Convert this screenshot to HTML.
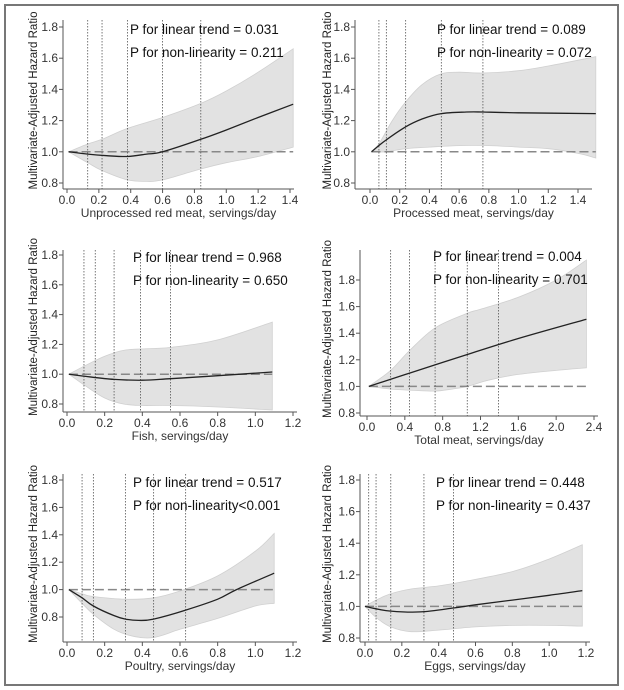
<!DOCTYPE html>
<html><head><meta charset="utf-8"><style>
html,body{margin:0;padding:0;background:#fff;}
svg{display:block;font-family:"Liberation Sans",Arial,sans-serif;}
</style></head><body>
<svg id="chart" width="624" height="690" viewBox="0 0 624 690" xmlns="http://www.w3.org/2000/svg">
<rect x="5" y="5" width="613" height="680" fill="#fff" stroke="#777" stroke-width="2"/>
</svg>
<script>
// ---- data ----
const titles = ["Unprocessed red meat, servings/day","Processed meat, servings/day","Fish, servings/day","Total meat, servings/day","Poultry, servings/day","Eggs, servings/day"];
const pTrend = ["0.031","0.089","0.968","0.004","0.517","0.448"];
const pNonlin = [" = 0.211"," = 0.072"," = 0.650"," = 0.701","<0.001"," = 0.437"];
const xTicks = [[0,0.2,0.4,0.6,0.8,1.0,1.2,1.4],[0,0.2,0.4,0.6,0.8,1.0,1.2,1.4],[0,0.2,0.4,0.6,0.8,1.0,1.2],[0,0.4,0.8,1.2,1.6,2.0,2.4],[0,0.2,0.4,0.6,0.8,1.0,1.2],[0,0.2,0.4,0.6,0.8,1.0,1.2]];
const yTicks = [0.8,1.0,1.2,1.4,1.6,1.8];
const vlines = [[0.13,0.22,0.38,0.60,0.84],[0.06,0.11,0.24,0.48,0.76],[0.09,0.15,0.25,0.39,0.55],[0.25,0.45,0.72,1.06,1.39],[0.08,0.14,0.31,0.46,0.63],[0.02,0.06,0.14,0.32,0.48]];
const estX = [[0.01,0.13,0.25,0.38,0.5,0.6,0.84,1.0,1.2,1.42],[0.01,0.1,0.24,0.35,0.48,0.65,0.76,1.0,1.52],[0.01,0.1,0.25,0.4,0.55,0.8,1.09],[0.02,0.45,1.06,1.6,2.32],[0.01,0.08,0.14,0.25,0.31,0.38,0.46,0.63,0.8,0.9,1.1],[0.0,0.06,0.14,0.3,0.48,0.6,0.8,1.0,1.18]];
const estY = [[1.0,0.985,0.975,0.97,0.985,1.0,1.08,1.14,1.22,1.305],[1.0,1.07,1.16,1.21,1.245,1.255,1.255,1.25,1.245],[1.0,0.985,0.965,0.96,0.97,0.99,1.015],[1.0,1.1,1.24,1.36,1.505],[1.0,0.94,0.88,0.81,0.785,0.775,0.785,0.85,0.93,1.0,1.12],[1.0,0.985,0.97,0.965,0.99,1.01,1.04,1.07,1.1]];
const upX = [[0.01,0.13,0.22,0.38,0.6,0.84,1.0,1.2,1.42],[0.01,0.06,0.15,0.24,0.35,0.48,0.6,0.76,1.0,1.2,1.52],[0.01,0.1,0.2,0.3,0.4,0.55,0.8,1.09],[0.02,0.25,0.45,0.72,1.06,1.2,1.6,2.0,2.32],[0.01,0.08,0.14,0.31,0.46,0.6,0.8,1.0,1.1],[0,0.06,0.14,0.25,0.4,0.55,0.8,1.0,1.18]];
const upY = [[1.0,1.05,1.08,1.15,1.22,1.31,1.39,1.51,1.66],[1.0,1.05,1.2,1.32,1.43,1.5,1.51,1.505,1.52,1.55,1.61],[1.0,1.06,1.12,1.16,1.17,1.18,1.23,1.35],[1.0,1.12,1.27,1.44,1.55,1.58,1.67,1.8,1.95],[1.0,0.97,0.95,0.93,0.94,0.99,1.1,1.28,1.41],[1.0,1.04,1.08,1.11,1.13,1.16,1.22,1.3,1.39]];
const loX = [[0.01,0.13,0.22,0.38,0.5,0.6,0.84,1.0,1.2,1.42],[0.01,0.1,0.24,0.4,0.6,0.8,1.0,1.2,1.4,1.52],[0.01,0.1,0.2,0.3,0.4,0.55,0.8,1.09],[0.02,0.25,0.5,0.72,0.9,1.06,1.3,1.6,2.0,2.32],[0.01,0.08,0.14,0.25,0.35,0.46,0.6,0.8,1.0,1.1],[0,0.06,0.14,0.25,0.4,0.6,0.8,1.0,1.18]];
const loY = [[1.0,0.93,0.88,0.82,0.81,0.82,0.89,0.93,0.97,1.03],[1.0,1.0,1.02,1.03,1.04,1.04,1.03,1.02,0.99,0.96],[1.0,0.92,0.84,0.80,0.79,0.79,0.78,0.76],[1.0,0.98,0.97,0.965,0.98,1.0,1.05,1.09,1.12,1.14],[1.0,0.9,0.82,0.71,0.66,0.65,0.71,0.79,0.88,0.9],[1.0,0.93,0.87,0.84,0.85,0.87,0.88,0.88,0.875]];
// ---- layout (pixels) ----
const L = [
 {ax:63,x0:67,x1:290,xv1:1.4,y08:183,y18:27,top:20,bot:189,xend:294,ptx:130,pty:29,yt:33},
 {ax:355,x0:370,x1:578,xv1:1.4,y08:183,y18:27,top:20,bot:189,xend:592,ptx:437,pty:29,yt:327},
 {ax:63,x0:67,x1:293,xv1:1.2,y08:404,y18:255,top:250,bot:412,xend:297,ptx:133,pty:257,yt:33},
 {ax:360,x0:367,x1:594,xv1:2.4,y08:413,y18:280,top:250,bot:416,xend:598,ptx:433,pty:256,yt:327},
 {ax:63,x0:67,x1:293,xv1:1.2,y08:617,y18:480,top:474,bot:642,xend:297,ptx:133,pty:482,yt:33},
 {ax:360,x0:365,x1:586,xv1:1.2,y08:638,y18:480,top:474,bot:642,xend:590,ptx:436,pty:482,yt:327}
];
const svg=document.getElementById('chart');
const NS='http://www.w3.org/2000/svg';
function mk(tag,attrs,parent){const e=document.createElementNS(NS,tag);for(const k in attrs)e.setAttribute(k,attrs[k]);(parent||svg).appendChild(e);return e;}
// Catmull-Rom smooth path through points
function smooth(pts,start){
  let d=start?('M'+pts[0][0].toFixed(1)+','+pts[0][1].toFixed(1)):('L'+pts[0][0].toFixed(1)+','+pts[0][1].toFixed(1));
  for(let i=0;i<pts.length-1;i++){
    const p0=pts[Math.max(0,i-1)],p1=pts[i],p2=pts[i+1],p3=pts[Math.min(pts.length-1,i+2)];
    const c1=[p1[0]+(p2[0]-p0[0])/6,p1[1]+(p2[1]-p0[1])/6];
    const c2=[p2[0]-(p3[0]-p1[0])/6,p2[1]-(p3[1]-p1[1])/6];
    d+='C'+c1[0].toFixed(1)+','+c1[1].toFixed(1)+' '+c2[0].toFixed(1)+','+c2[1].toFixed(1)+' '+p2[0].toFixed(1)+','+p2[1].toFixed(1);
  }
  return d;
}
L.forEach((l,i)=>{
  const g=mk('g',{});
  
  
  const sx=v=>l.x0+(v)*(l.x1-l.x0)/l.xv1;
  const sy=v=>l.y08+(v-0.8)*(l.y18-l.y08)/1.0;
  const up=upX[i].map((x,j)=>[sx(x),sy(upY[i][j])]);
  const lo=loX[i].map((x,j)=>[sx(x),sy(loY[i][j])]).reverse();
  const d=smooth(up,true)+smooth(lo,false)+'Z';
  const band=mk('path',{d:d,fill:'#e2e2e2',stroke:'#d0d0d0','stroke-width':'0.8'},g);
  
  
  const ref=mk('line',{x1:sx(estX[i][0]),x2:sx(estX[i][estX[i].length-1]),y1:sy(1),y2:sy(1),stroke:'#888','stroke-width':'1.5','stroke-dasharray':'9,4'},g);
  
  
  vlines[i].forEach(v=>{
    const vl=mk('line',{x1:sx(v),x2:sx(v),y1:l.top,y2:l.bot,stroke:'#555','stroke-width':'0.8','stroke-dasharray':'1.5,1.5'},g);
    
    
  });
  const est=mk('path',{d:smooth(estX[i].map((x,j)=>[sx(x),sy(estY[i][j])]),true),fill:'none',stroke:'#222','stroke-width':'1.3'},g);
  
  
  const ya=mk('line',{x1:l.ax,x2:l.ax,y1:l.top,y2:l.bot,stroke:'#555','stroke-width':'1'},g);
  
  
  const xa=mk('line',{x1:l.ax,x2:l.xend,y1:l.bot,y2:l.bot,stroke:'#555','stroke-width':'1'},g);
  
  
  yTicks.forEach(t=>{
    mk('line',{x1:l.ax-4,x2:l.ax,y1:sy(t),y2:sy(t),stroke:'#555'},g);
    const tx=mk('text',{x:l.ax-5,y:sy(t)+4,'text-anchor':'end','font-size':'12',fill:'#333'},g);
    
    
    tx.textContent=t.toFixed(1);
  });
  xTicks[i].forEach(t=>{
    mk('line',{x1:sx(t),x2:sx(t),y1:l.bot,y2:l.bot+4,stroke:'#555'},g);
    const tx=mk('text',{x:sx(t),y:l.bot+15,'text-anchor':'middle','font-size':'12',fill:'#333'},g);
    
    
    tx.textContent=t.toFixed(1);
  });
  const xt=mk('text',{x:(l.ax+l.xend)/2,y:l.bot+28,'text-anchor':'middle','font-size':'12',fill:'#333'},g);
  
  
  xt.textContent=titles[i];
  const cy=(l.top+l.bot)/2-4;
  const yt=mk('text',{x:0,y:0,transform:'translate('+(l.yt+4)+','+cy+') rotate(-90)','text-anchor':'middle','font-size':'11.5',fill:'#222',textLength:'178',lengthAdjust:'spacingAndGlyphs'},g);
  
  
  yt.textContent='Multivariate-Adjusted Hazard Ratio';
  const p1=mk('text',{x:l.ptx,y:l.pty+5,'font-size':'13.5',fill:'#111'},g);
  
  
  p1.textContent='P for linear trend = '+pTrend[i];
  const p2=mk('text',{x:l.ptx,y:l.pty+28,'font-size':'13.5',fill:'#111'},g);
  
  
  p2.textContent='P for non-linearity'+pNonlin[i];
});
</script>
</body></html>
